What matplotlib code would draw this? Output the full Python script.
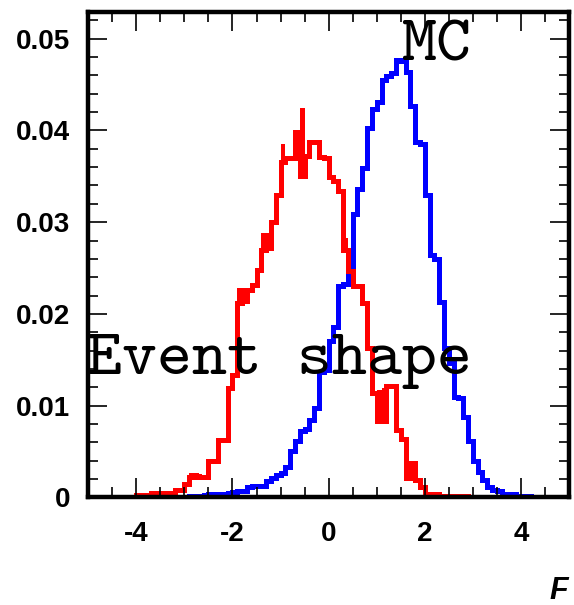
import numpy as np
import matplotlib
matplotlib.use('Agg')
import matplotlib.pyplot as plt
from matplotlib.ticker import MultipleLocator, FixedLocator, FixedFormatter

plt.rcParams['axes.unicode_minus'] = False


# 100 bins between -5 and 5 (fraction per bin)
x_min, x_max, n_bins = -5, 5, 100

red = [0, 0, 0, 0, 0, 0, 0, 0, 0, 0,
       0.0003, 0.0003, 0.0001, 0.0005, 0.0005, 0.0005, 0.0005, 0.0003, 0.0008, 0.0008,
       0.0015, 0.0022, 0.0023, 0.0022, 0.0022, 0.0040, 0.0040, 0.0063, 0.0063, 0.0119,
       0.0134, 0.0212, 0.0214, 0.0226, 0.0232, 0.0248, 0.0270, 0.0272, 0.0300, 0.0330,
       0.0365, 0.0370, 0.0370, 0.0398, 0.0350, 0.0372, 0.0387, 0.0387, 0.0371, 0.0370,
       0.0349, 0.0345, 0.0334, 0.0270, 0.0247, 0.0230, 0.0230, 0.0212, 0.0163, 0.0114,
       0.0083, 0.0083, 0.0122, 0.0122, 0.0074, 0.0064, 0.0021, 0.0038, 0.0019, 0.0011,
       0.0004, 0.0004, 0.0004, 0.0, 0.0002, 0.0002, 0.0002, 0.0002, 0.0002, 0,
       0, 0, 0, 0, 0, 0, 0, 0, 0, 0,
       0, 0, 0, 0, 0, 0, 0, 0, 0, 0]

# second red curve, differs only where the picture shows thick blobs
red_hi = list(red)
for k, v in [(21, 0.0027), (22, 0.0027), (31, 0.0228), (32, 0.0228), (36, 0.0288),
             (37, 0.0288), (40, 0.0385), (44, 0.0424), (53, 0.0283), (60, 0.0117),
             (61, 0.0119), (66, 0.0040)]:
    red_hi[k] = v

blue = [0, 0, 0, 0, 0, 0, 0, 0, 0, 0,
        0, 0, 0, 0, 0, 0, 0, 0, 0, 0.0001,
        0.0001, 0.0002, 0.0001, 0.0002, 0.0003, 0.0004, 0.0003, 0.0004, 0.0004, 0.0005,
        0.0006, 0.0007, 0.0007, 0.0011, 0.0012, 0.0012, 0.0013, 0.0018, 0.0021, 0.0024,
        0.0027, 0.0033, 0.0051, 0.0062, 0.0072, 0.0075, 0.0084, 0.0097, 0.0137, 0.0139,
        0.0170, 0.0186, 0.0230, 0.0233, 0.0241, 0.0309, 0.0336, 0.0359, 0.0403, 0.0423,
        0.0431, 0.0455, 0.0459, 0.0463, 0.0477, 0.0476, 0.0464, 0.0427, 0.0387, 0.0385,
        0.0330, 0.0264, 0.0260, 0.0213, 0.0163, 0.0147, 0.0110, 0.0108, 0.0088, 0.0062,
        0.0040, 0.0028, 0.0019, 0.0011, 0.0008, 0.0007, 0.0004, 0.0004, 0.0004, 0.0002,
        0.0002, 0.0002, 0, 0, 0, 0, 0, 0, 0, 0]

x_ticks = [-4, -2, 0, 2, 4]
y_ticks = [0, 0.01, 0.02, 0.03, 0.04, 0.05]
y_tick_labels = ['0', '0.01', '0.02', '0.03', '0.04', '0.05']

edges = np.linspace(x_min, x_max, n_bins + 1)

fig = plt.figure(figsize=(5.74, 6.05), dpi=100)
ax = fig.add_axes([0.1538, 0.1777, 0.8375, 0.8025])

lw = 3.6
ax.stairs(blue, edges, color='blue', lw=lw)
ax.stairs(red, edges, color='red', lw=lw)
ax.stairs(red_hi, edges, baseline=red, fill=True, color='red', lw=lw)

ax.set_xlim(x_min, x_max)
ax.set_ylim(0, 0.0529)

# ROOT like frame and ticks
for s in ax.spines.values():
    s.set_linewidth(3.2)
ax.xaxis.set_major_locator(FixedLocator(x_ticks))
ax.xaxis.set_minor_locator(MultipleLocator(0.5))
ax.yaxis.set_major_locator(FixedLocator(y_ticks))
ax.yaxis.set_major_formatter(FixedFormatter(y_tick_labels))
ax.yaxis.set_minor_locator(MultipleLocator(0.002))
ax.tick_params(which='both', direction='in', top=True, right=True, width=1.2, color='black')
ax.tick_params(which='major', length=14)
ax.tick_params(which='minor', length=7)
ax.tick_params(axis='x', pad=17)
ax.tick_params(axis='y', pad=13)
for lab in ax.get_xticklabels() + ax.get_yticklabels():
    lab.set_fontfamily('Liberation Sans')
    lab.set_fontweight('bold')
    lab.set_fontsize(20)

ax.text(1.51, 0.0476, 'MC', family='cmtt10', fontsize=48)
ax.text(-5.02, 0.01346, 'Event shape', family='cmtt10', fontsize=48)

fig.text(0.99, 0.01, 'F', ha='right', va='baseline', family='Liberation Sans',
         fontweight='bold', fontstyle='italic', fontsize=22)

fig.savefig('out.png', dpi=100)
